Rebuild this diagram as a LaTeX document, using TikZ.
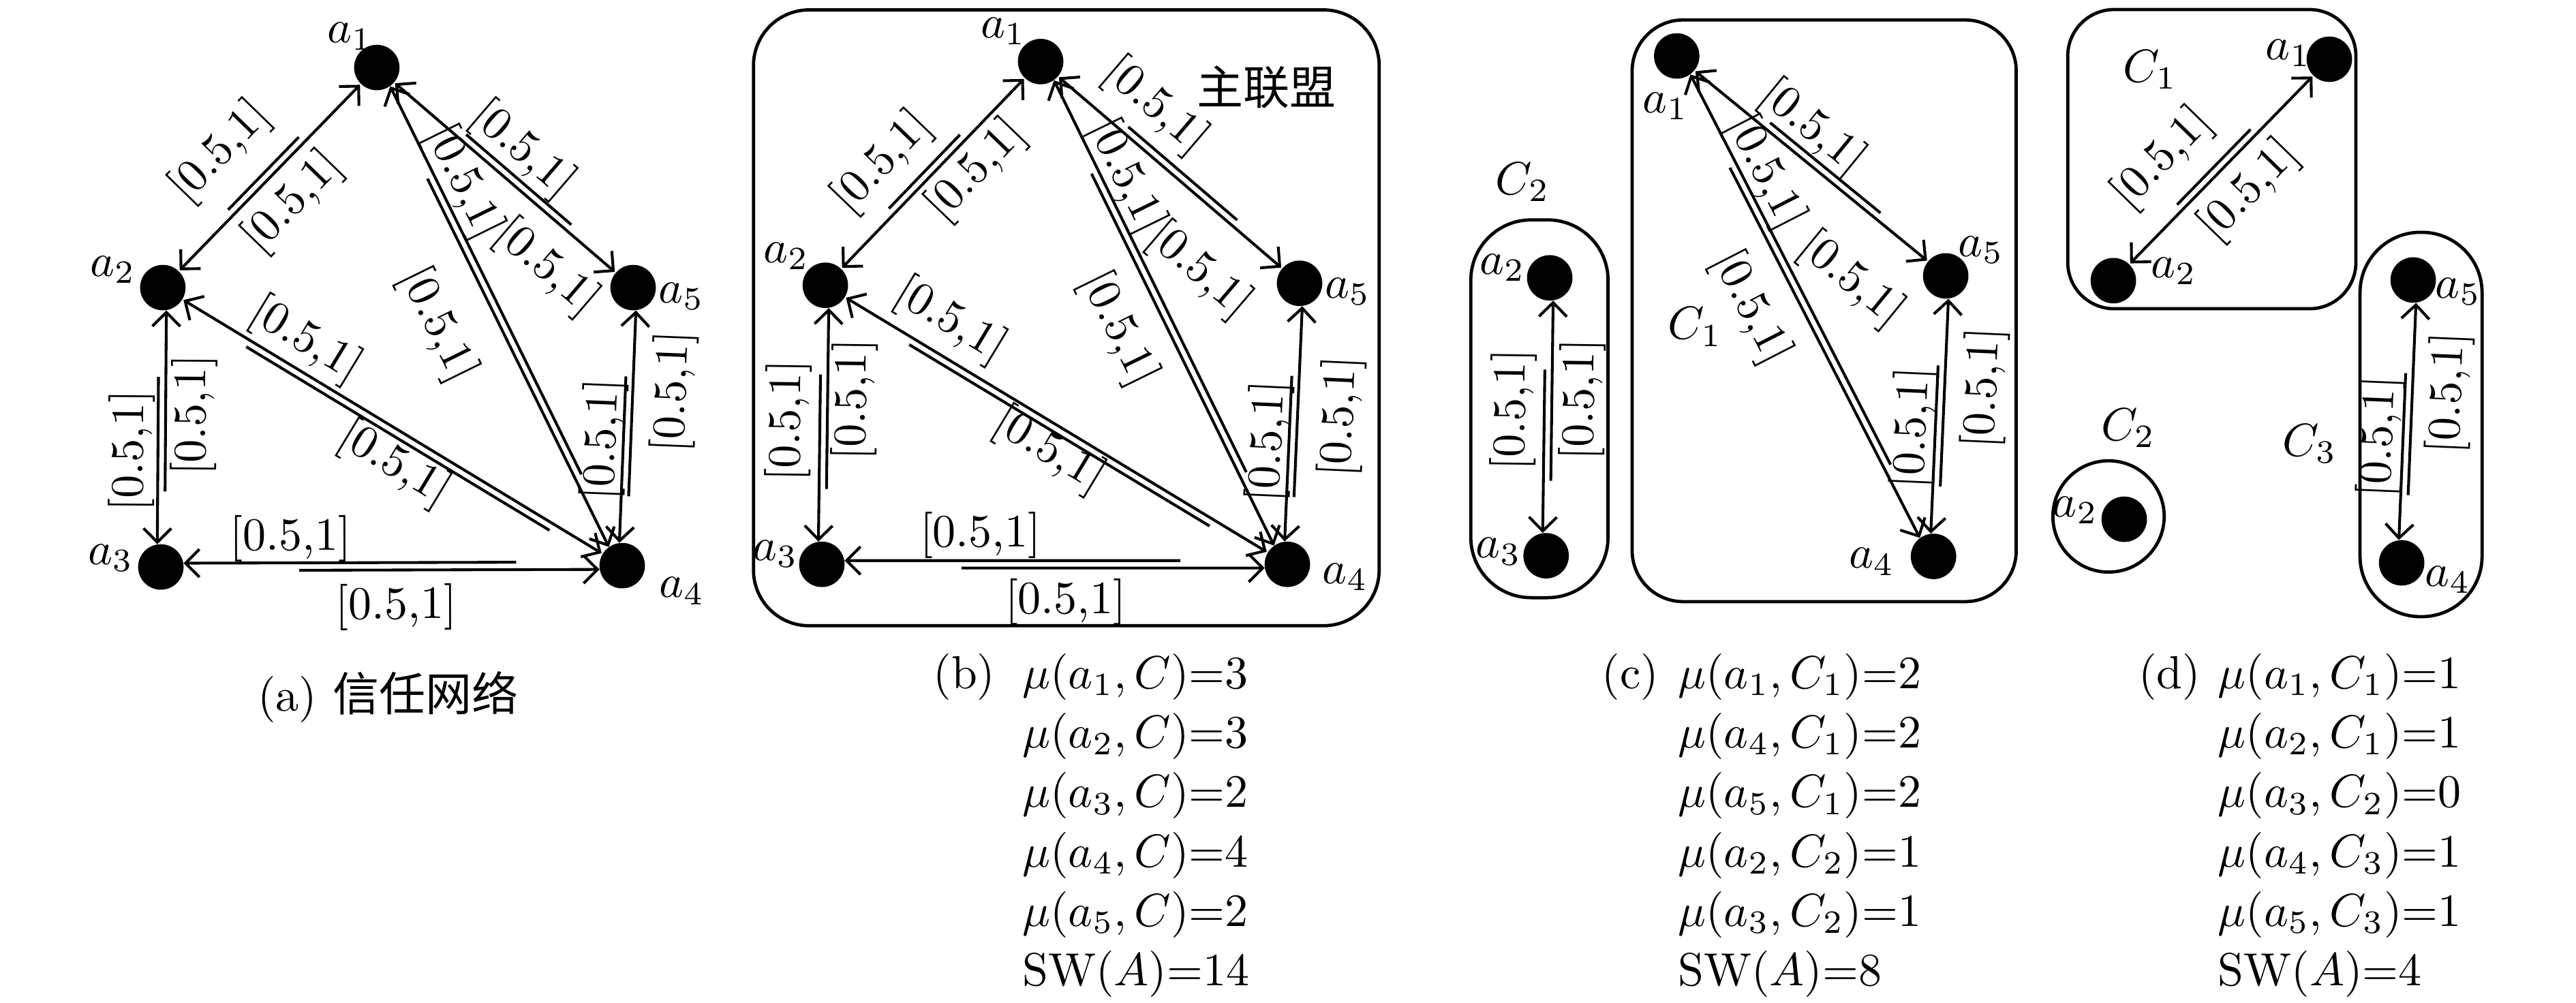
\documentclass[tikz,border=0pt]{standalone}
\usepackage{fontspec}
\usetikzlibrary{arrows.meta,calc}
\newfontfamily\cjk{Noto Sans CJK SC}

\tikzset{
	agent/.style={circle,fill=black,inner sep=0pt,minimum size=9.8pt},
	vtip/.tip={Straight Barb[length=3pt,width=6pt]},
	onearr/.style={-vtip,shorten >=4.9pt},
	twoarr/.style={vtip-vtip},
	rng/.style={sloped,inner sep=0pt},
	coal/.style={line width=0.7pt},
}

\begin{document}
\begin{tikzpicture}[x=0.356pt,y=-0.356pt,line width=0.6pt]
	\useasboundingbox (0,0) rectangle (1560,607.5);

	%AGENTS
	\foreach \n/\x/\y in {a1/228.2/40.9,a2/98.6/174.2,a3/97.4/343.4,a4/376.8/342.6,a5/383.4/174.2,
		b1/630.2/37.3,b2/499.8/172.8,b3/497.7/341.8,b4/779.6/341.8,b5/787/171.6,
		c1/1015.4/33.9,c2/938.5/168.3,c3/936.3/336.6,c4/1170.9/337,c5/1178.3/167.1,
		d1/1410.6/35.9,d2/1279.8/170,d3/1286.4/314.5,d4/1454.4/340.9,d5/1461.4/169.6}
		\node[agent] (\n) at (\x,\y) {};

	%AGENT AND COALITION NAMES
	\foreach \n/\x/\y/\t in {la1/212/22/a_1,la2/68.4/163.3/a_2,la3/67/338/a_3,la4/413/358/a_4,la5/412.7/179.5/a_5,
		lb1/607.6/18.9/a_1,lb2/476.1/155.1/a_2,lb3/469.5/335.5/a_3,lb4/814.7/349.4/a_4,lb5/816.1/176.6/a_5,
		lc1/1008.6/64.2/a_1,lc2/909.8/162.2/a_2,lc3/907.5/334/a_3,lc4/1133.4/340.2/a_4,lc5/1199.7/151.3/a_5,
		ld1/1385.9/32.2/a_1,ld2/1316.5/164.3/a_2,ld3/1256.7/309.1/a_2,ld4/1482.5/351.2/a_4,ld5/1488.6/176.6/a_5,
		gc1/1026.6/198/C_1,gc2/922.1/110.2/C_2,gd1/1302.1/42.1/C_1,gd2/1288.9/259.2/C_2,gd3/1398.7/268.7/C_3}
		\node (\n) at (\x,\y) {$\t$};
	\node (main) at (767.1,53) {\cjk 主联盟};

	%COALITIONS
	\draw[coal,rounded corners=12pt] (456.3,6) rectangle (835.2,379);
	\draw[coal,rounded corners=13pt] (890.7,133.2) rectangle (973.8,362);
	\draw[coal,rounded corners=11pt] (988.4,12.1) rectangle (1221,364.4);
	\draw[coal,rounded corners=10pt] (1252.2,5.8) rectangle (1426.7,187);
	\draw[coal] (1276.9,312.8) circle[radius=12pt];
	\draw[coal,rounded corners=13pt] (1429.2,140.7) rectangle (1503.1,373.5);

	%TRUST ARROWS, one per direction
	\foreach \u/\v/\s in {a1/a4/0.22,a4/a1/0.18,a2/a3/0.32,a3/a2/0.27,a3/a4/0.30,a4/a3/0.23,a4/a5/0.25,a5/a4/0.32,
		b1/b4/0.22,b4/b1/0.18,b2/b3/0.32,b3/b2/0.27,b3/b4/0.30,b4/b3/0.23,b4/b5/0.24,b5/b4/0.33,
		c1/c4/0.22,c4/c1/0.18,c2/c3/0.33,c3/c2/0.27,c4/c5/0.25,c5/c4/0.32,
		d4/d5/0.24,d5/d4/0.33}
		\draw[onearr] ($(\u)!\s!(\v)!0.8pt!-90:(\v)$) -- ($(\v)!0.8pt!90:(\u)$);
	%TRUST ARROWS, both ways on one line
	\foreach \u/\v/\s/\e/\o in {a2/a1/0.33/0.66/1.6pt,a1/a5/0.33/0.74/1.6pt,a2/a4/0.19/0.85/-1.6pt,
		b2/b1/0.32/0.65/1.6pt,b1/b5/0.32/0.74/1.6pt,b2/b4/0.19/0.84/-1.6pt,
		c1/c5/0.33/0.74/1.6pt,d2/d1/0.32/0.66/1.6pt}{
		\draw[twoarr] (\u) -- (\v);
		\draw ($(\u)!\s!(\v)!\o!90:(\v)$) -- ($(\u)!\e!(\v)!\o!90:(\v)$);
	}

	%INTERVAL LABELS
	\foreach \u/\v/\p/\d [count=\i] in {a2/a1/0.447/11.5pt,a2/a1/0.495/-7.3pt,a1/a5/0.486/7pt,a1/a5/0.767/-8.9pt,
		a1/a4/0.254/5.8pt,a1/a4/0.464/-12.8pt,a2/a4/0.278/6.2pt,a2/a4/0.539/-6.8pt,
		a3/a2/0.415/6.5pt,a3/a2/0.545/-6.9pt,a3/a4/0.281/6pt,a3/a4/0.51/-8.8pt,a4/a5/0.451/5pt,a4/a5/0.632/-9.7pt,
		b2/b1/0.412/9.5pt,b2/b1/0.603/-6.3pt,b1/b5/0.341/8.8pt,b1/b5/0.752/-12pt,
		b1/b4/0.251/5.5pt,b1/b4/0.49/-10.4pt,b2/b4/0.232/7.3pt,b2/b4/0.513/-5.6pt,
		b3/b2/0.513/7.6pt,b3/b2/0.591/-6.5pt,b3/b4/0.341/6.3pt,b3/b4/0.524/-8.1pt,b4/b5/0.434/5pt,b4/b5/0.533/-10.2pt,
		c3/c2/0.523/7.5pt,c3/c2/0.563/-7.3pt,c1/c5/0.433/6.5pt,c1/c5/0.796/-13.6pt,
		c1/c4/0.256/5.5pt,c1/c4/0.458/-10.6pt,c4/c5/0.454/5.4pt,c4/c5/0.607/-9.4pt,
		d2/d1/0.393/10.8pt,d2/d1/0.514/-7.4pt,d4/d5/0.442/5.7pt,d4/d5/0.606/-8.8pt}
		\path ($(\u)!\d!90:(\v)$) -- ($(\v)!\d!-90:(\u)$) node[rng,pos=\p] (r\i) {[0.5,1]};

	%CAPTIONS
	\node (capa) at (235,422) {(a) {\cjk 信任网络}};
	\foreach \n/\x in {b/555,c/960,d/1285}
		\node[anchor=base west] (cap\n) at (\x,417) {(\n)};
	\foreach \l [count=\i] in {{$\mu(a_1,C)$=3},{$\mu(a_2,C)$=3},{$\mu(a_3,C)$=2},{$\mu(a_4,C)$=4},{$\mu(a_5,C)$=2},{SW($A$)=14}}
		\node[anchor=base west] (mb\i) at (609,{417+36*(\i-1)}) {\l};
	\foreach \l [count=\i] in {{$\mu(a_1,C_1)$=2},{$\mu(a_4,C_1)$=2},{$\mu(a_5,C_1)$=2},{$\mu(a_2,C_2)$=1},{$\mu(a_3,C_2)$=1},{SW($A$)=8}}
		\node[anchor=base west] (mc\i) at (1006,{417+36*(\i-1)}) {\l};
	\foreach \l [count=\i] in {{$\mu(a_1,C_1)$=1},{$\mu(a_2,C_1)$=1},{$\mu(a_3,C_2)$=0},{$\mu(a_4,C_3)$=1},{$\mu(a_5,C_3)$=1},{SW($A$)=4}}
		\node[anchor=base west] (md\i) at (1333,{417+36*(\i-1)}) {\l};
\end{tikzpicture}
\end{document}
